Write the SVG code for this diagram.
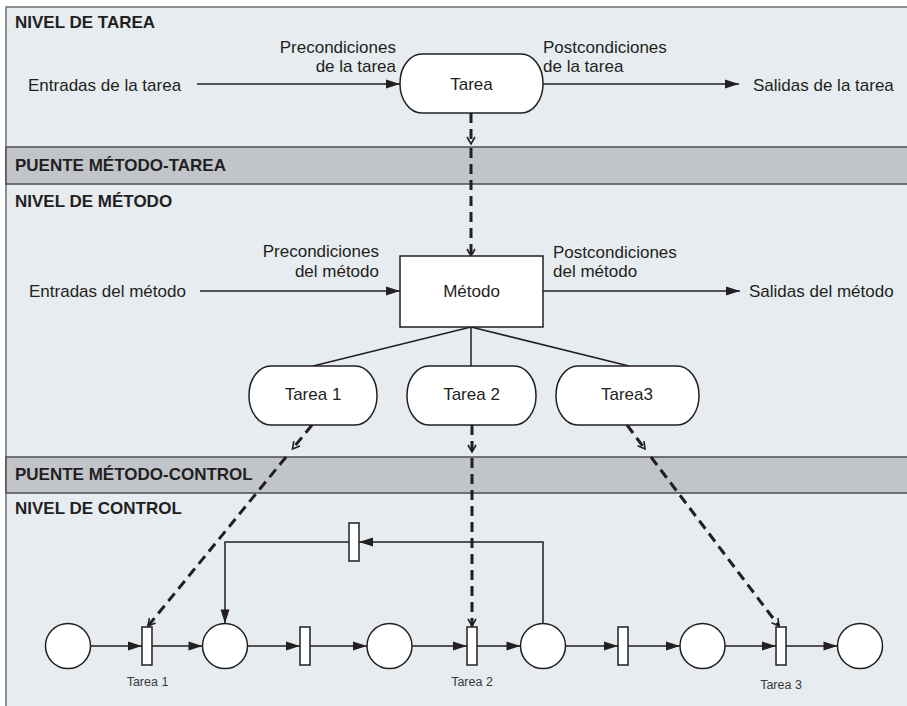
<svg xmlns="http://www.w3.org/2000/svg" width="907" height="706" viewBox="0 0 907 706">
<style>
text{font-family:"Liberation Sans",Arial,sans-serif;fill:#231f20}
.t{font-size:17px}
.h{font-size:17px;font-weight:bold}
.c{text-anchor:middle}
.r{text-anchor:end}
.lab{font-size:12.5px;fill:#3a3a3a;text-anchor:middle}
.ln{stroke:#231f20;stroke-width:1.5;fill:none}
.arr{marker-end:url(#af)}
.dash{stroke:#231f20;stroke-width:3;fill:none;stroke-dasharray:10 6;marker-end:url(#ao)}
.node{fill:#fff;stroke:#231f20;stroke-width:1.5}
.band{fill:#c1c5ca;stroke:#4d4d4f;stroke-width:1.5}
</style>
<defs>
<marker id="af" markerUnits="userSpaceOnUse" viewBox="-15 -6 16 12" markerWidth="16" markerHeight="12" refX="0" refY="0" orient="auto">
<path d="M0,0 L-14,-4.5 L-14,4.5 Z" fill="#231f20"/>
</marker>
<marker id="ao" markerUnits="userSpaceOnUse" viewBox="-10 -6 12 12" markerWidth="12" markerHeight="12" refX="0" refY="0" orient="auto">
<path d="M-7,-4 L0,0 L-7,4" fill="none" stroke="#231f20" stroke-width="1.6" stroke-dasharray="none"/>
</marker>
</defs>
<g id="background">
<rect x="6" y="7" width="910" height="710" fill="#e7ecf0" stroke="#6d6e71" stroke-width="1.5"/>
<rect class="band" x="6" y="147" width="910" height="37"/>
<rect class="band" x="6" y="457" width="910" height="36"/>
<text class="h" x="15" y="28">NIVEL DE TAREA</text>
<text class="h" x="15" y="171">PUENTE MÉTODO-TAREA</text>
<text class="h" x="15" y="207">NIVEL DE MÉTODO</text>
<text class="h" x="15" y="480">PUENTE MÉTODO-CONTROL</text>
<text class="h" x="15" y="514">NIVEL DE CONTROL</text>
</g>
<g id="connectors">
<line class="ln arr" x1="197" y1="84" x2="400" y2="84"/>
<line class="ln arr" x1="543" y1="84" x2="739" y2="84"/>
<line class="ln arr" x1="200" y1="291" x2="400" y2="291"/>
<line class="ln arr" x1="543" y1="291" x2="740" y2="291"/>
<line class="ln" x1="471" y1="327" x2="313" y2="366"/>
<line class="ln" x1="471" y1="327" x2="471" y2="366"/>
<line class="ln" x1="471" y1="327" x2="629" y2="366"/>
<line class="dash" x1="471" y1="113" x2="471" y2="144"/>
<line class="dash" x1="471" y1="148" x2="471" y2="256"/>
<line class="dash" x1="312" y1="425" x2="292.5" y2="449"/>
<line class="dash" x1="286" y1="457" x2="148" y2="626"/>
<line class="dash" x1="472" y1="425" x2="472" y2="452"/>
<line class="dash" x1="472" y1="458" x2="472" y2="626"/>
<line class="dash" x1="627" y1="425" x2="645" y2="449"/>
<line class="dash" x1="651" y1="457" x2="779" y2="626"/>
<line class="ln arr" x1="90.5" y1="646" x2="142" y2="646"/>
<line class="ln arr" x1="152" y1="646" x2="202.5" y2="646"/>
<line class="ln arr" x1="247.5" y1="646" x2="300" y2="646"/>
<line class="ln arr" x1="310" y1="646" x2="367" y2="646"/>
<line class="ln arr" x1="412" y1="646" x2="467" y2="646"/>
<line class="ln arr" x1="477" y1="646" x2="520.5" y2="646"/>
<line class="ln arr" x1="565.5" y1="646" x2="618" y2="646"/>
<line class="ln arr" x1="628" y1="646" x2="680" y2="646"/>
<line class="ln arr" x1="725" y1="646" x2="776" y2="646"/>
<line class="ln arr" x1="786" y1="646" x2="837.5" y2="646"/>
<polyline class="ln arr" points="543,623.5 543,542 359,542"/>
<polyline class="ln arr" points="349,542 225,542 225,623.5"/>
</g>
<g id="tarea">
<rect class="node" x="400" y="54" width="143" height="59" rx="22" ry="29"/>
<text class="t c" x="471.5" y="90">Tarea</text>
</g>
<g id="tarea-labels">
<text class="t" x="28" y="91">Entradas de la tarea</text>
<text class="t r" x="396" y="53">Precondiciones</text>
<text class="t r" x="396" y="72">de la tarea</text>
<text class="t" x="543" y="53">Postcondiciones</text>
<text class="t" x="543" y="72">de la tarea</text>
<text class="t" x="753" y="91">Salidas de la tarea</text>
</g>
<g id="metodo">
<rect class="node" x="400" y="256" width="143" height="71"/>
<text class="t c" x="471.5" y="297">Método</text>
</g>
<g id="metodo-labels">
<text class="t" x="29" y="297">Entradas del método</text>
<text class="t r" x="379" y="257">Precondiciones</text>
<text class="t r" x="379" y="277">del método</text>
<text class="t" x="553" y="258">Postcondiciones</text>
<text class="t" x="553" y="277">del método</text>
<text class="t" x="749" y="297">Salidas del método</text>
</g>
<g id="tarea1">
<rect class="node" x="249" y="366" width="128" height="59" rx="22" ry="29"/>
<text class="t c" x="313" y="400">Tarea 1</text>
</g>
<g id="tarea2">
<rect class="node" x="407" y="366" width="129" height="59" rx="22" ry="29"/>
<text class="t c" x="471.5" y="400">Tarea 2</text>
</g>
<g id="tarea3">
<rect class="node" x="556" y="366" width="143" height="59" rx="22" ry="29"/>
<text class="t c" x="627" y="400">Tarea3</text>
</g>
<g id="p1"><circle class="node" cx="68" cy="646" r="22.5"/></g>
<g id="t1"><rect class="node" x="142" y="627" width="10" height="38"/><text class="lab" x="147.5" y="686">Tarea 1</text></g>
<g id="p2"><circle class="node" cx="225" cy="646" r="22.5"/></g>
<g id="t2"><rect class="node" x="300" y="627" width="10" height="38"/></g>
<g id="p3"><circle class="node" cx="389.5" cy="646" r="22.5"/></g>
<g id="t3"><rect class="node" x="467" y="627" width="10" height="38"/><text class="lab" x="472" y="686">Tarea 2</text></g>
<g id="p4"><circle class="node" cx="543" cy="646" r="22.5"/></g>
<g id="t4"><rect class="node" x="618" y="627" width="10" height="38"/></g>
<g id="p5"><circle class="node" cx="702.5" cy="646" r="22.5"/></g>
<g id="t5"><rect class="node" x="776" y="627" width="10" height="38"/><text class="lab" x="781" y="689">Tarea  3</text></g>
<g id="p6"><circle class="node" cx="860" cy="646" r="22.5"/></g>
<g id="tfb"><rect class="node" x="349" y="523" width="10" height="38"/></g>
</svg>
